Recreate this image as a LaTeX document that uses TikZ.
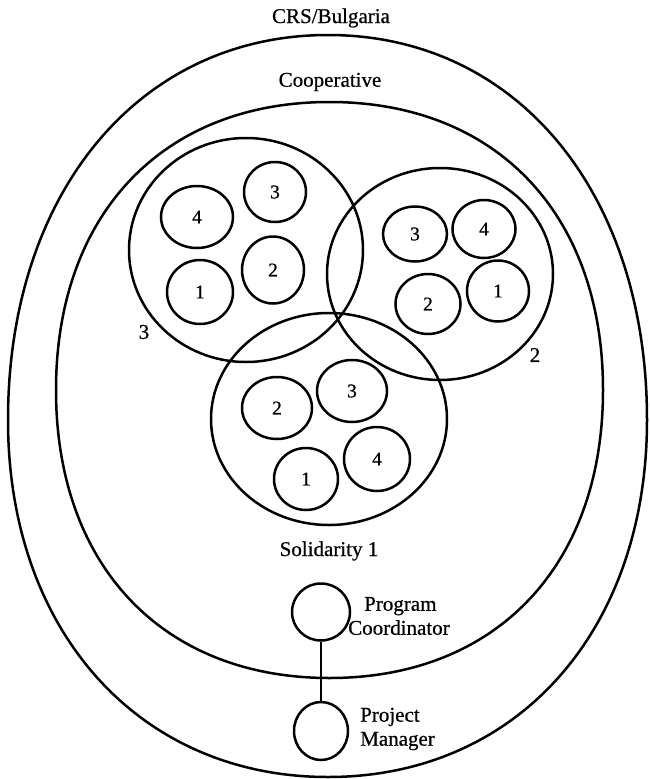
\documentclass[tikz,border=0pt]{standalone}
\usepackage{fontspec}
\setmainfont{Liberation Serif}
\newfontfamily\heavyserif{Liberation Serif}[FakeBold=0.6]
\usetikzlibrary{shapes.geometric}
\tikzset{
  ring/.style={draw, line width=2.5pt},
  member/.style={ellipse, draw, line width=2.5pt, inner sep=0pt, font=\heavyserif\fontsize{19.5}{21}\selectfont},
  staff/.style={ellipse, draw, line width=2.5pt, inner sep=0pt},
  lab/.style={inner sep=0pt, font=\heavyserif\fontsize{21}{24}\selectfont},
  role/.style={inner sep=0pt, align=left, font=\heavyserif\fontsize{21}{24}\selectfont},
  link/.style={line width=2.5pt}
}
\begin{document}
\begin{tikzpicture}[x=1pt,y=-1pt]
\useasboundingbox (0,0) rectangle (650,779);
% outer region (CRS/Bulgaria)
\draw[ring] (328,35) .. controls (516.8,35) and (647,192.8) .. (647,420)
  .. controls (647,631.2) and (516.8,777) .. (328,777)
  .. controls (139.2,777) and (8,631.2) .. (8,420)
  .. controls (8,192.8) and (139.2,35) .. cycle;
% inner region (Cooperative)
\draw[ring] (329.5,102) .. controls (496.3,102) and (603,214.3) .. (603,390)
  .. controls (603,565.7) and (496.3,678) .. (329.5,678)
  .. controls (162.7,678) and (56,565.7) .. (56,390)
  .. controls (56,214.3) and (162.7,102) .. cycle;
\node[lab] (crs) at (331,18) {CRS/Bulgaria};
\node[lab] (coop) at (330,82) {Cooperative};
% solidarity groups
\draw[ring] (246,250) ellipse [x radius=117, y radius=112];
\draw[ring] (440,274) ellipse [x radius=113, y radius=106];
\draw[ring] (329,419) ellipse [x radius=118, y radius=106];
\node[lab] (g3) at (144,332) {3};
\node[lab] (g2) at (535,355) {2};
\node[lab] (g1) at (329,551) {Solidarity 1};
% left group members
\node[member, minimum width=72pt, minimum height=62pt] (l4) at (197,217) {4};
\node[member, minimum width=62pt, minimum height=60pt] (l3) at (275,192) {3};
\node[member, minimum width=66pt, minimum height=64pt] (l1) at (200,292) {1};
\node[member, minimum width=62pt, minimum height=67pt] (l2) at (273,270) {2};
% right group members
\node[member, minimum width=64pt, minimum height=55pt] (r3) at (415,234) {3};
\node[member, minimum width=63pt, minimum height=58pt] (r4) at (484,229) {4};
\node[member, minimum width=65pt, minimum height=60pt] (r2) at (428,304) {2};
\node[member, minimum width=62pt, minimum height=61pt] (r1) at (498,291) {1};
% bottom group members
\node[member, minimum width=70pt, minimum height=62pt] (b2) at (277,408) {2};
\node[member, minimum width=70pt, minimum height=62pt] (b3) at (352,391) {3};
\node[member, minimum width=66pt, minimum height=64pt] (b4) at (377,459) {4};
\node[member, minimum width=64pt, minimum height=62pt] (b1) at (306,479) {1};
% staff
\node[staff, minimum width=58pt, minimum height=57pt] (pc) at (321,612) {};
\node[staff, minimum width=54pt, minimum height=58pt] (pm) at (321,731) {};
\draw[link] (pc) -- (pm);
\node[role, anchor=west] (pct) at (348,616) {\hspace*{16pt}Program\\Coordinator};
\node[role, anchor=west] (pmt) at (360,729) {Project\\Manager};
\end{tikzpicture}
\end{document}
